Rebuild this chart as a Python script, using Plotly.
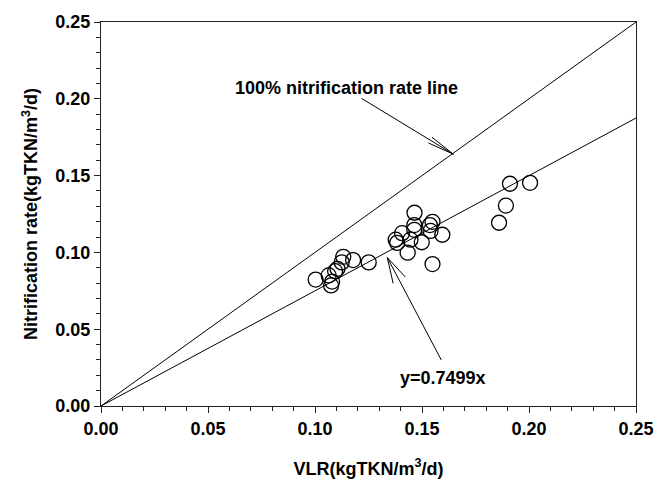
import math
import plotly.graph_objects as go

# ---- data ----
vlr = [0.1003, 0.1075, 0.1080, 0.1064, 0.1094, 0.1105, 0.1125, 0.1132, 0.1178, 0.1251,
       0.1465, 0.1464, 0.1549, 0.1537, 0.1464, 0.1595, 0.1540, 0.1407, 0.1384, 0.1377,
       0.1499, 0.1433, 0.1446, 0.1549,
       0.1911, 0.2005, 0.1892, 0.1860]
nitr = [0.0823, 0.0785, 0.0810, 0.0850, 0.0878, 0.0893, 0.0935, 0.0971, 0.0950, 0.0935,
        0.1258, 0.1178, 0.1199, 0.1178, 0.1147, 0.1115, 0.1140, 0.1125, 0.1062, 0.1083,
        0.1066, 0.0998, 0.1083, 0.0924,
        0.1447, 0.1453, 0.1305, 0.1193]
line_x = [0.0, 0.25]
slope_full = 1.0
slope_fit = 0.7499

# ---- layout constants ----
W, H = 666, 487
ML, MR, MT, MB = 101, 19, 15, 78
PW, PH = W - ML - MR, H - MT - MB
XR, YR = [0, 0.25], [0, 0.25]
sx = PW / (XR[1] - XR[0])
sy = PH / (YR[1] - YR[0])

FONT = "Liberation Sans, Arial, sans-serif"
BOLD18 = dict(family=FONT, size=18, color="black", weight="bold")

fig = go.Figure()
fig.add_trace(go.Scatter(x=line_x, y=[slope_full * v for v in line_x], mode="lines",
                         line=dict(color="black", width=1), showlegend=False))
fig.add_trace(go.Scatter(x=line_x, y=[slope_fit * v for v in line_x], mode="lines",
                         line=dict(color="black", width=1), showlegend=False))
fig.add_trace(go.Scatter(x=vlr, y=nitr, mode="markers",
                         marker=dict(symbol="circle-open", size=15, color="black",
                                     line=dict(width=1.3, color="black")),
                         showlegend=False))


def arrow(tail, head, length_px=28, half_angle=8):
    # tail/head in data coords; draw shaft plus open V head
    shapes = [dict(type="line", xref="x", yref="y", x0=tail[0], y0=tail[1],
                   x1=head[0], y1=head[1], line=dict(color="black", width=1))]
    dxp = (tail[0] - head[0]) * sx
    dyp = -(tail[1] - head[1]) * sy
    ang = math.atan2(dyp, dxp)
    for s in (-1, 1):
        a = ang + s * math.radians(half_angle)
        bx = head[0] + length_px * math.cos(a) / sx
        by = head[1] - length_px * math.sin(a) / sy
        shapes.append(dict(type="line", xref="x", yref="y", x0=head[0], y0=head[1],
                           x1=bx, y1=by, line=dict(color="black", width=1)))
    return shapes


shapes = []
shapes += arrow((0.1217, 0.2003), (0.1647, 0.1639), 28, 7)
shapes += arrow((0.1590, 0.0300), (0.1338, 0.0966), 27, 15)

annotations = [
    dict(x=0.1148, y=0.2071, xref="x", yref="y", text="100% nitrification rate line",
         showarrow=False, font=BOLD18),
    dict(x=0.1600, y=0.0180, xref="x", yref="y", text="y=0.7499x",
         showarrow=False, font=BOLD18),
]

axis_common = dict(
    showline=True, linecolor="#222", linewidth=1.3, mirror=True,
    ticks="outside", ticklen=6, tickwidth=1, tickcolor="#222",
    showgrid=False, zeroline=False,
    tickfont=BOLD18,
    minor=dict(ticks="outside", ticklen=4, tickwidth=1, tickcolor="#222", dtick=0.01, showgrid=False),
    dtick=0.05, tickformat=".2f",
)

fig.update_layout(
    width=W, height=H,
    margin=dict(l=ML, r=MR, t=MT, b=MB, pad=0),
    paper_bgcolor="white", plot_bgcolor="white",
    shapes=shapes, annotations=annotations,
    xaxis=dict(range=XR, title=dict(text="VLR(kgTKN/m<sup>3</sup>/d)",
                                    font=BOLD18, standoff=24),
               **axis_common),
    yaxis=dict(range=YR, title=dict(text="Nitrification rate(kgTKN/m<sup>3</sup>/d)",
                                    font=BOLD18, standoff=12),
               **axis_common),
)

fig.write_html("out.html")
